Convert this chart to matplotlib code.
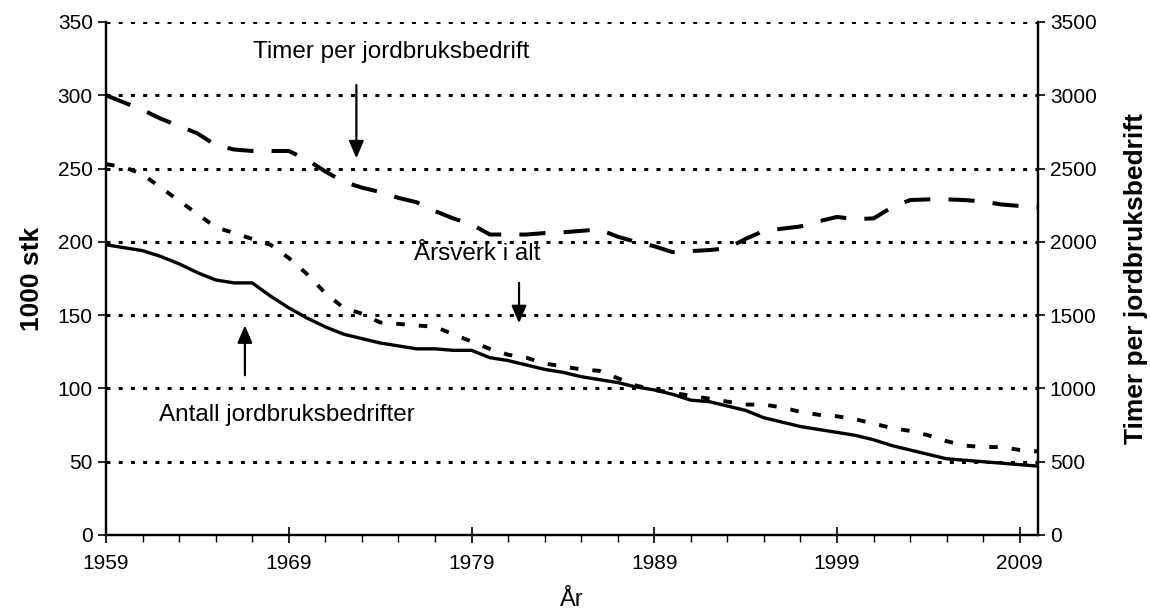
import matplotlib
matplotlib.use("Agg")
import matplotlib.pyplot as plt
from matplotlib.ticker import MultipleLocator

plt.rcParams['font.family'] = ['Liberation Sans', 'DejaVu Sans']

# data (1959-2010)
years = list(range(1959, 2011))
antall_bedrifter = [198, 196, 194, 190, 185, 179, 174, 172, 172, 163,
                    155, 148, 142, 137, 134, 131, 129, 127, 127, 126,
                    126, 121, 119, 116, 113, 111, 108, 106, 104, 101,
                    99, 96, 92, 91, 88, 85, 80, 77, 74, 72,
                    70, 68, 65, 61, 58, 55, 52, 51, 50, 49,
                    48, 47]
arsverk = [253, 251, 246, 237, 228, 219, 210, 206, 202, 198,
           189, 178, 165, 155, 151, 145, 144, 143, 142, 137,
           132, 127, 123, 121, 117, 115, 113, 112, 107, 102,
           99, 97, 95, 93, 91, 89, 89, 87, 84, 82,
           81, 79, 76, 73, 71, 68, 64, 61, 60, 60,
           58, 57]
timer_per_bedrift = [3000, 2950, 2900, 2840, 2790, 2740, 2660, 2630, 2620, 2620,
                     2620, 2560, 2480, 2410, 2370, 2340, 2300, 2270, 2210, 2160,
                     2120, 2050, 2050, 2050, 2060, 2065, 2075, 2085, 2035, 2000,
                     1970, 1930, 1937, 1944, 1956, 2020, 2075, 2090, 2105, 2140,
                     2170, 2155, 2160, 2235, 2285, 2290, 2290, 2285, 2275, 2255,
                     2245, 2235]

fig = plt.figure(figsize=(11.5, 6.16), dpi=100)
ax = fig.add_axes([0.0922, 0.1315, 0.8104, 0.8328])
ax2 = ax.twinx()

# dotted grid lines
for v in range(50, 351, 50):
    ax.axhline(v, color='black', lw=2.2, ls=(0, (1.3, 2.7)), zorder=1)

ax.plot(years, antall_bedrifter, color='black', lw=2.4, zorder=3)
ax.plot(years, arsverk, color='black', lw=2.8, ls=(0, (2.2, 3.6)), zorder=3)
ax2.plot(years, timer_per_bedrift, color='black', lw=2.9, ls=(0, (6.5, 4.5)), zorder=3)

ax.set_xlim(1959, 2010)
ax.set_ylim(0, 350)
ax2.set_ylim(0, 3500)
ax.set_xticks([1959, 1969, 1979, 1989, 1999, 2009])
ax.set_xticks(range(1959, 2011, 2), minor=True)
ax.yaxis.set_major_locator(MultipleLocator(50))
ax2.yaxis.set_major_locator(MultipleLocator(500))

for a in (ax, ax2):
    a.spines['top'].set_visible(False)
    for s in ('left', 'right', 'bottom'):
        a.spines[s].set_linewidth(1.6)
ax.tick_params(axis='x', which='major', direction='inout', length=11, width=1.2,
               labelsize=15, pad=8)
ax.tick_params(axis='x', which='minor', direction='out', length=5, width=1.0)
ax.tick_params(axis='y', direction='out', length=6, width=1.2, labelsize=15)
ax2.tick_params(axis='y', direction='out', length=5, width=1.2, labelsize=15)

ax.set_xlabel('År', fontsize=17, labelpad=12)
ax.set_ylabel('1000 stk', fontsize=19, fontweight='bold', labelpad=10)
ax2.set_ylabel('Timer per jordbruksbedrift', fontsize=19, fontweight='bold', labelpad=20)

arrow = dict(arrowstyle='-|>,head_length=0.7,head_width=0.3', color='black',
             lw=1.6, mutation_scale=15, shrinkA=0, shrinkB=0)
ax.text(1974.6, 329.5, 'Timer per jordbruksbedrift', fontsize=17.5,
        ha='center', va='center')
ax.annotate('', xy=(1972.7, 257), xytext=(1972.7, 307), arrowprops=arrow)
ax.text(1979.3, 192, 'Årsverk i alt', fontsize=17.5, ha='center', va='center')
ax.annotate('', xy=(1981.6, 144.5), xytext=(1981.6, 172), arrowprops=arrow)
ax.text(1968.9, 82, 'Antall jordbruksbedrifter', fontsize=17.5,
        ha='center', va='center')
ax.annotate('', xy=(1966.6, 143), xytext=(1966.6, 109), arrowprops=arrow)

fig.savefig('out.png', dpi=100)
